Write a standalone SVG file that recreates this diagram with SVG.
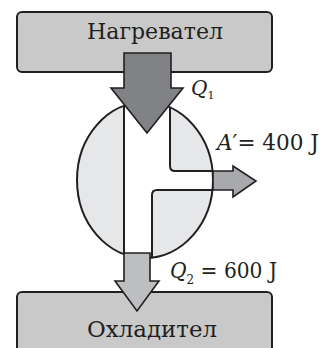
<svg xmlns="http://www.w3.org/2000/svg" width="322" height="348" viewBox="0 0 322 348">
<style>
.box{fill:#c9c9ca;stroke:#231f20;stroke-width:2}
.lbl{font-family:"DejaVu Serif","Liberation Serif",serif;fill:#231f20}
.ln{fill:none;stroke:#231f20;stroke-width:2}
.arr{stroke:#231f20;stroke-width:1.6;stroke-linejoin:miter}
</style>
<defs>
<clipPath id="ec"><ellipse cx="145" cy="180" rx="68" ry="78"/></clipPath>
</defs>
<g id="heater">
<rect class="box" x="17" y="12" width="255" height="60" rx="5"/>
<text class="lbl" x="87" y="39" font-size="23" textLength="136" lengthAdjust="spacingAndGlyphs">Нагревател</text>
</g>
<g id="cooler">
<rect class="box" x="17" y="292" width="255" height="70" rx="5"/>
<text class="lbl" x="87" y="337" font-size="23" textLength="130" lengthAdjust="spacingAndGlyphs">Охладител</text>
</g>
<g id="engine">
<ellipse cx="145" cy="180" rx="68" ry="78" fill="#e6e7e8"/>
<g clip-path="url(#ec)">
<path d="M124,90 L170,90 L170,166 Q170,171 175,171 L230,171 L230,190 L157,190 Q152,190 152,195 L152,270 L124,270 Z" fill="#fff"/>
<path class="ln" d="M124,90 L124,270"/>
<path class="ln" d="M170,90 L170,166 Q170,171 175,171 L230,171"/>
<path class="ln" d="M230,190 L157,190 Q152,190 152,195 L152,270"/>
</g>
<ellipse cx="145" cy="180" rx="68" ry="78" fill="none" stroke="#231f20" stroke-width="2"/>
</g>
<g id="connectors">
<polygon class="arr" fill="#808285" points="124,53 171,53 171,88 183,88 147,133 111,88 124,88"/>
<polygon class="arr" fill="#a7a9ac" points="213,171 233,171 233,166 256,181 233,197 233,190 213,190"/>
<polygon class="arr" fill="#bcbec0" points="124,253 150,253 150,281 159,281 137,311 115,281 124,281"/>
</g>
<g id="labels">
<text class="lbl" x="191" y="95" font-size="20" font-style="italic">Q<tspan font-size="11" font-style="normal" dy="4">1</tspan></text>
<text class="lbl" x="217" y="150" font-size="22" textLength="102" lengthAdjust="spacingAndGlyphs"><tspan font-style="italic">A</tspan>′= 400 J</text>
<text class="lbl" x="170" y="278" font-size="22" textLength="107" lengthAdjust="spacingAndGlyphs"><tspan font-style="italic">Q</tspan><tspan font-size="13" dy="6">2</tspan><tspan dy="-6"> = 600 J</tspan></text>
</g>
</svg>
